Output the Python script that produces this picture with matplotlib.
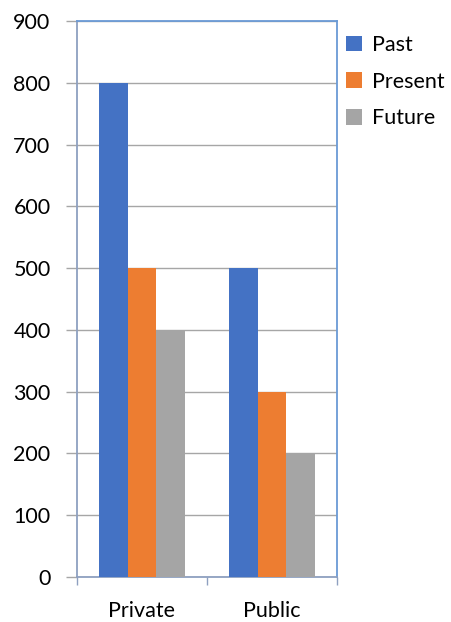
import matplotlib
matplotlib.use("Agg")
import matplotlib.pyplot as plt
import numpy as np

plt.rcParams['font.family'] = ['Lato', 'DejaVu Sans']

categories = ["Private", "Public"]
series_names = ["Past", "Present", "Future"]
past = [800, 500]
present = [500, 300]
future = [400, 200]
y_ticks = [0, 100, 200, 300, 400, 500, 600, 700, 800, 900]

colors = ["#4472C4", "#ED7D31", "#A5A5A5"]
values = [past, present, future]

fig = plt.figure(figsize=(4.51, 6.22), dpi=100)
ax = fig.add_axes([77 / 451, 45 / 622, 260 / 451, 556 / 622])

x = np.arange(len(categories))
width = 1 / 4.5
offsets = [-width, 0, width]
for vals, name, col, off in zip(values, series_names, colors, offsets):
    ax.bar(x + off, vals, width=width, color=col, label=name, zorder=3)

ax.set_xlim(-0.5, len(categories) - 0.5)
ax.set_ylim(0, 900)
ax.set_yticks(y_ticks)
ax.yaxis.grid(True, color="#A6A6A6", linewidth=1.0, zorder=0)

fs = 15.5

# category labels centred, tick marks at category boundaries
ax.set_xticks(x)
ax.set_xticklabels(categories)
ax.set_xticks(np.arange(-0.5, len(categories), 1.0), minor=True)
ax.tick_params(axis="x", which="major", length=0, pad=17, labelsize=fs)
ax.tick_params(axis="x", which="minor", length=6, width=1.0, color="#8EA0C0")
ax.tick_params(axis="y", length=8, width=1.0, color="#A6A6A6", pad=11, labelsize=fs)

for side in ["top", "right"]:
    ax.spines[side].set_color("#6A9AD6")
    ax.spines[side].set_linewidth(1.3)
ax.spines["left"].set_color("#8EA0C0")
ax.spines["bottom"].set_color("#8EA0C0")
ax.spines["left"].set_linewidth(1.3)
ax.spines["bottom"].set_linewidth(1.3)

leg = ax.legend(loc="upper left", bbox_to_anchor=(1.035, 0.975), frameon=False,
                fontsize=fs, handlelength=0.75, handleheight=0.75,
                handletextpad=0.45, labelspacing=0.78, borderaxespad=0,
                borderpad=0)

fig.savefig("out.png", dpi=100)
